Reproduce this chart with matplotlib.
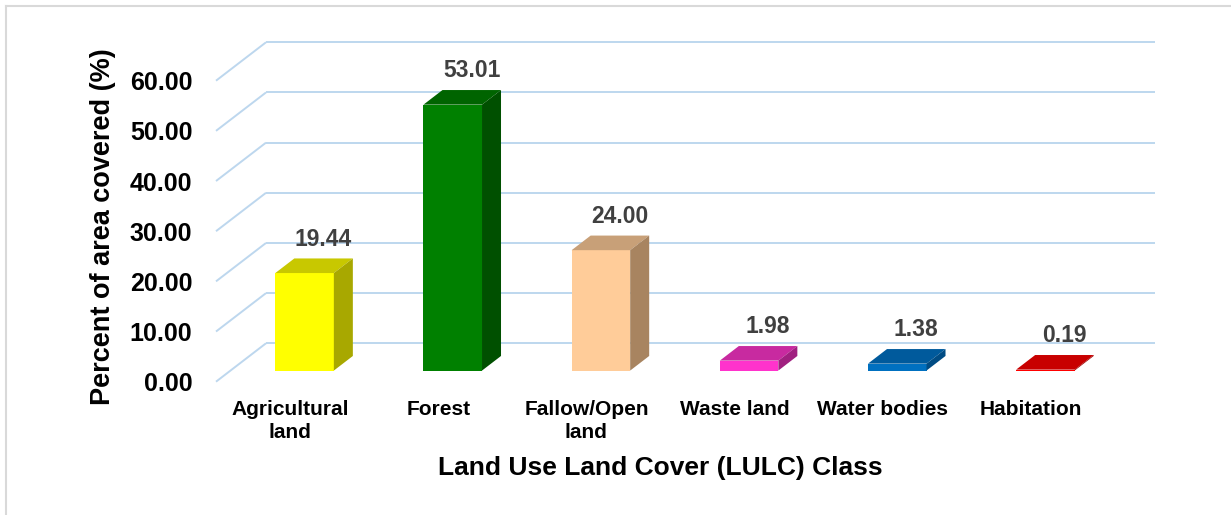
"""LULC class share, drawn as Excel-style 3D columns."""

import matplotlib

matplotlib.use("Agg")
from matplotlib import pyplot as plt
from matplotlib.lines import Line2D
from matplotlib.patches import Polygon

classes = [
    "Agricultural\nland",
    "Forest",
    "Fallow/Open\nland",
    "Waste land",
    "Water bodies",
    "Habitation",
]
percent = [19.44, 53.01, 24.00, 1.98, 1.38, 0.19]
y_ticks = [0, 10, 20, 30, 40, 50, 60]

front_colors = ["#FFFF00", "#008000", "#FFCC99", "#FF33CC", "#0070C0", "#FF0000"]
top_colors = ["#C8C800", "#006400", "#C8A078", "#C82AA0", "#005A9C", "#C80000"]
side_colors = ["#A8A800", "#005000", "#A88460", "#A02080", "#004C84", "#A00000"]

plt.rcParams["font.family"] = ["Liberation Sans", "DejaVu Sans"]
plt.rcParams["font.weight"] = "bold"

W, H = 1231, 515
fig = plt.figure(figsize=(W / 100, H / 100), dpi=100)

# front plane of the chart box, in pixels
left_px, right_px = 216, 1105
zero_px, top_px = 381.7, 80.7
ax = fig.add_axes(
    (left_px / W, 1 - zero_px / H, (right_px - left_px) / W, (zero_px - top_px) / H)
)
xmin, xmax = -0.5, len(classes) - 0.5
ymin, ymax = 0, 60
ax.set_xlim(xmin, xmax)
ax.set_ylim(ymin, ymax)

# depth of the floor (pixels -> data units)
px_x = (right_px - left_px) / (xmax - xmin)
px_y = (zero_px - top_px) / (ymax - ymin)
DX = 50 / px_x
DY = 38.4 / px_y
f0, f1 = 0.29, 0.67  # bar front / back depth fraction
bar_w = 0.395

grid_c = "#BDD7EE"
for v in y_ticks:
    ax.plot([xmin, xmin + DX], [v, v + DY], color=grid_c, lw=1.4, zorder=1,
            clip_on=False, solid_capstyle="butt")
    ax.plot([xmin + DX, xmax + DX], [v + DY, v + DY], color=grid_c, lw=1.4,
            zorder=1, clip_on=False, solid_capstyle="butt")

for i, val in enumerate(percent):
    xc = i + f0 * DX
    base = f0 * DY
    ddx = (f1 - f0) * DX
    ddy = (f1 - f0) * DY
    x0, x1 = xc - bar_w / 2, xc + bar_w / 2
    top = base + val
    ax.bar(xc, val, width=bar_w, bottom=base, color=front_colors[i], zorder=3,
           clip_on=False)
    ax.add_patch(Polygon([(x0, top), (x1, top), (x1 + ddx, top + ddy),
                          (x0 + ddx, top + ddy)], closed=True,
                         facecolor=top_colors[i], edgecolor="none", zorder=3,
                         clip_on=False))
    ax.add_patch(Polygon([(x1, base), (x1, top), (x1 + ddx, top + ddy),
                          (x1 + ddx, base + ddy)], closed=True,
                         facecolor=side_colors[i], edgecolor="none", zorder=3,
                         clip_on=False))
    ax.annotate(f"{val:.2f}", (xc + ddx, top + ddy), xytext=(0, 14),
                textcoords="offset points", ha="center", va="center",
                fontsize=16.5, fontweight="bold", color="#404040")

for s in ax.spines.values():
    s.set_visible(False)
ax.set_yticks(y_ticks, [f"{v:.2f}" for v in y_ticks])
ax.set_xticks(range(len(classes)), classes)
ax.tick_params(axis="y", length=0, pad=17, labelsize=18)
ax.tick_params(axis="x", length=0, pad=13, labelsize=15)
for lab in ax.get_xticklabels():
    lab.set_linespacing(1.25)
    lab.set_fontweight("bold")
for lab in ax.get_yticklabels():
    lab.set_fontweight("bold")

fig.text(660 / W, 1 - 468 / H, "Land Use Land Cover (LULC) Class",
         ha="center", va="center", fontsize=19, fontweight="bold")
fig.text(103 / W, 1 - 227 / H, "Percent of area covered (%)", rotation=90,
         ha="center", va="center", fontsize=19.5, fontweight="bold")

# outer chart frame (only top and left edges visible)
frame_c = "#D9D9D9"
fig.add_artist(Line2D([6 / W, 1], [1 - 6 / H, 1 - 6 / H], color=frame_c, lw=1.5))
fig.add_artist(Line2D([6 / W, 6 / W], [0, 1 - 6 / H], color=frame_c, lw=1.5))

fig.savefig("out.png", dpi=100)
